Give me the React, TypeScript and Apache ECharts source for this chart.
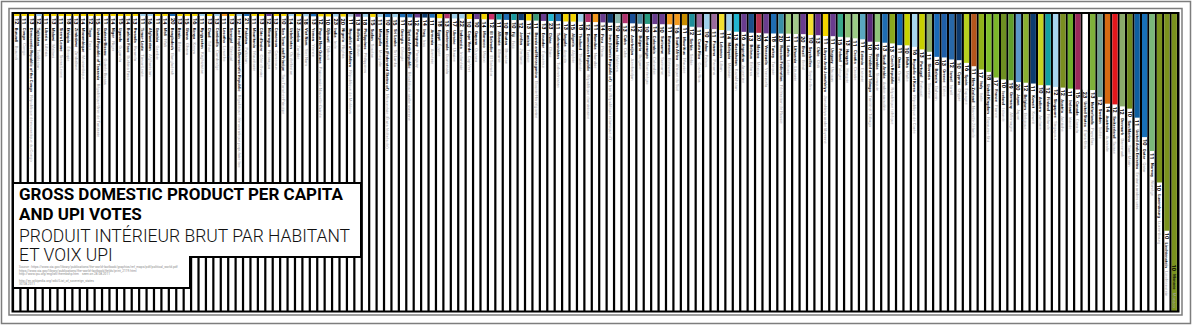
import React, { useEffect, useRef } from "react";
import * as echarts from "echarts";

// ---------- DATA ----------
const countries: string[] = [
  "Burundi", "Congo", "Democratic Republic of the Congo", "Tajikistan", "Liberia", "Malawi", "Sierra Leone", "Ethiopia", "Zimbabwe", "Mozambique",
  "Togo", "United Republic of Tanzania", "Guinea-Bissau", "Niger", "Uganda", "Burkina Faso", "Rwanda", "Timor-Leste", "Afghanistan", "Gambia",
  "Mali", "Bangladesh", "Benin", "Ghana", "Kenya", "Kyrgyzstan", "Chad", "Cambodia", "Lesotho", "Senegal",
  "Lao People's Democratic Republic", "Pakistan", "Mauritania", "Côte d'Ivoire", "Nicaragua", "Cameroon", "Sao Tome and Principe", "Uzbekistan", "Zambia", "Viet Nam",
  "Yemen", "Papua New Guinea", "Djibouti", "India", "Nigeria", "Republic of Moldova", "Bolivia", "Philippines", "Sudan", "Mongolia",
  "Micronesia (Federated States of)", "Sri Lanka", "Georgia", "Syrian Arab Republic", "Paraguay", "Iraq", "Armenia", "Egypt", "Guatemala", "Ukraine",
  "Indonesia", "Cape Verde", "Guyana", "Morocco", "El Salvador", "Albania", "Bhutan", "Fiji", "Jordan", "Tunisia",
  "Bosnia and Herzegovina", "Ecuador", "China", "Turkmenistan", "Angola", "Algeria", "Thailand", "Dominican Republic", "Namibia", "Peru",
  "Iran (Islamic Republic of)", "Maldives", "Cuba", "Azerbaijan", "Bulgaria", "Montenegro", "Colombia", "Suriname", "Botswana", "South Africa",
  "Mauritius", "Serbia", "Costa Rica", "Palau", "Panama", "Lebanon", "Malaysia", "Kazakhstan", "Argentina", "Belarus",
  "Mexico", "Venezuela", "Turkey", "Russian Federation", "Latvia", "Lithuania", "Brazil", "Seychelles", "Chile", "Libyan Arab Jamahiriya",
  "Uruguay", "Poland", "Hungary", "Croatia", "Estonia", "Trinidad and Tobago", "Slovakia", "Saudi Arabia", "Czech Republic", "Oman",
  "Malta", "Republic of Korea", "Portugal", "Slovenia", "Bahrain", "Greece", "Israel", "Cyprus", "Spain", "New Zealand",
  "Italy", "United Kingdom", "France", "Iceland", "Germany", "Japan", "Belgium", "Kuwait", "Andorra", "Finland",
  "Singapore", "Austria", "Ireland", "Canada", "United States", "Netherlands", "Sweden", "Australia", "Switzerland", "Denmark",
  "San Marino", "United Arab Emirates", "Qatar", "Norway", "Luxembourg", "Liechtenstein", "Monaco"
];

const countriesFr: string[] = [
  "Burundi", "Congo", "République démocratique du Congo", "Tadjikistan", "Libéria", "Malawi", "Sierra Leone", "Éthiopie", "Zimbabwe", "Mozambique",
  "Togo", "République-Unie de Tanzanie", "Guinée-Bissau", "Niger", "Ouganda", "Burkina Faso", "Rwanda", "Timor-Leste", "Afghanistan", "Gambie",
  "Mali", "Bangladesh", "Bénin", "Ghana", "Kenya", "Kirghizistan", "Tchad", "Cambodge", "Lesotho", "Sénégal",
  "République démocratique populaire lao", "Pakistan", "Mauritanie", "Côte d'Ivoire", "Nicaragua", "Cameroun", "Sao Tomé-et-Principe", "Ouzbékistan", "Zambie", "Viet Nam",
  "Yémen", "Papouasie-Nouvelle-Guinée", "Djibouti", "Inde", "Nigéria", "République de Moldova", "Bolivie", "Philippines", "Soudan", "Mongolie",
  "Micronésie (États fédérés de)", "Sri Lanka", "Géorgie", "République arabe syrienne", "Paraguay", "Iraq", "Arménie", "Égypte", "Guatemala", "Ukraine",
  "Indonésie", "Cap-Vert", "Guyana", "Maroc", "El Salvador", "Albanie", "Bhoutan", "Fidji", "Jordanie", "Tunisie",
  "Bosnie-Herzégovine", "Équateur", "Chine", "Turkménistan", "Angola", "Algérie", "Thaïlande", "République dominicaine", "Namibie", "Pérou",
  "Iran (République islamique d')", "Maldives", "Cuba", "Azerbaïdjan", "Bulgarie", "Monténégro", "Colombie", "Suriname", "Botswana", "Afrique du Sud",
  "Maurice", "Serbie", "Costa Rica", "Palaos", "Panama", "Liban", "Malaisie", "Kazakhstan", "Argentine", "Bélarus",
  "Mexique", "Venezuela", "Turquie", "Fédération de Russie", "Lettonie", "Lituanie", "Brésil", "Seychelles", "Chili", "Jamahiriya arabe libyenne",
  "Uruguay", "Pologne", "Hongrie", "Croatie", "Estonie", "Trinité-et-Tobago", "Slovaquie", "Arabie saoudite", "République tchèque", "Oman",
  "Malte", "République de Corée", "Portugal", "Slovénie", "Bahreïn", "Grèce", "Israël", "Chypre", "Espagne", "Nouvelle-Zélande",
  "Italie", "Royaume-Uni", "France", "Islande", "Allemagne", "Japon", "Belgique", "Koweït", "Andorre", "Finlande",
  "Singapour", "Autriche", "Irlande", "Canada", "États-Unis", "Pays-Bas", "Suède", "Australie", "Suisse", "Danemark",
  "Saint-Marin", "Émirats arabes unis", "Qatar", "Norvège", "Luxembourg", "Liechtenstein", "Monaco"
];

// UPI votes
const votes: number[] = [
  12, 11, 13, 12, 11, 13, 11, 18, 13, 14,
  12, 15, 11, 14, 15, 14, 13, 11, 16, 11,
  14, 20, 13, 15, 16, 11, 13, 13, 11, 13,
  12, 21, 11, 13, 12, 13, 10, 14, 13, 18,
  13, 12, 10, 23, 20, 11, 13, 18, 15, 11,
  10, 15, 11, 13, 12, 14, 11, 18, 13, 17,
  22, 10, 10, 14, 12, 11, 10, 10, 12, 13,
  11, 13, 23, 11, 13, 15, 18, 12, 11, 14,
  18, 10, 13, 12, 12, 10, 14, 10, 11, 16,
  11, 12, 11, 10, 11, 11, 14, 13, 16, 13,
  20, 14, 18, 20, 11, 11, 20, 10, 13, 11,
  11, 15, 13, 11, 11, 10, 12, 13, 13, 11,
  10, 16, 13, 11, 10, 13, 12, 10, 16, 11,
  17, 18, 17, 10, 19, 20, 12, 11, 10, 12,
  12, 12, 11, 15, 23, 13, 12, 14, 12, 12,
  10, 11, 10, 11, 10, 10, 10
];

// GDP per capita (USD)
const gdpPerCapita: number[] = [
  180, 210, 230, 270, 290, 330, 350, 365, 395, 420,
  445, 500, 530, 555, 565, 600, 610, 640, 650, 680,
  700, 720, 750, 790, 810, 850, 880, 910, 950, 1000,
  1040, 1070, 1100, 1140, 1170, 1210, 1240, 1290, 1330, 1380,
  1420, 1460, 1500, 1540, 1580, 1630, 1680, 1730, 1790, 1840,
  1880, 1930, 1990, 2080, 2130, 2190, 2240, 2580, 2640, 2700,
  2760, 3080, 3150, 3210, 3340, 3410, 3640, 3690, 3760, 3990,
  4060, 4240, 4290, 4360, 4590, 4650, 4720, 4890, 4960, 5120,
  5300, 5580, 5640, 5720, 5980, 6090, 6170, 6280, 6340, 6790,
  6900, 7790, 8190, 9200, 9260, 9810, 10270, 10880, 10950, 11480,
  11550, 11890, 11940, 11990, 12050, 12250, 12340, 12880, 12990, 13480,
  13590, 14010, 14330, 14900, 15520, 16980, 17060, 17620, 18030, 19080,
  19210, 20150, 21700, 23180, 26270, 26630, 27870, 28300, 29950, 32000,
  34020, 35480, 38940, 40140, 40560, 41720, 42100, 42620, 43580, 43700,
  44690, 45100, 45720, 46300, 46380, 46600, 50900, 54970, 55400, 56620,
  58000, 63530, 75450, 84000, 103300, 132800, 186000
];

const barColors: string[] = [
  "#f3d400", "#f3d400", "#f3d400", "#9fd0ea", "#f3d400", "#f3d400", "#f3d400", "#f3d400", "#f3d400", "#f3d400",
  "#f3d400", "#f3d400", "#f3d400", "#f3d400", "#f3d400", "#f3d400", "#f3d400", "#9fd0ea", "#9fd0ea", "#f3d400",
  "#f3d400", "#1f6db3", "#f3d400", "#f3d400", "#f3d400", "#9fd0ea", "#f3d400", "#9fd0ea", "#f39a1e", "#f3d400",
  "#9fd0ea", "#1f6db3", "#f3d400", "#f3d400", "#6a3d8f", "#f3d400", "#f3d400", "#9fd0ea", "#f3d400", "#9fd0ea",
  "#1f6db3", "#f3d400", "#f3d400", "#9fd0ea", "#f3d400", "#a9c4d6", "#6a3d8f", "#9fd0ea", "#f3d400", "#9fd0ea",
  "#1f6db3", "#9fd0ea", "#1f6db3", "#1f6db3", "#6a3d8f", "#0c3c6e", "#1f6db3", "#f3d400", "#b2336e", "#9fd0ea",
  "#9fd0ea", "#f3d400", "#6a3d8f", "#f3d400", "#c9306a", "#1a9aa0", "#1f6db3", "#1a9aa0", "#0c3c6e", "#f3d400",
  "#3d9b78", "#6a3d8f", "#22b5d0", "#1f6db3", "#f3d400", "#f3d400", "#9fd0ea", "#b2336e", "#f39a1e", "#6a3d8f",
  "#0c3c6e", "#8ab8b0", "#b2336e", "#1a4f96", "#4a8aa0", "#2a9a80", "#6a3d8f", "#6a3d8f", "#f39a1e", "#f39a1e",
  "#c98e00", "#1f8f9a", "#9b6a9c", "#9fd0ea", "#9b6a9c", "#f3e030", "#9fd0ea", "#22b5d0", "#6a3d8f", "#1b4f8a",
  "#b3304f", "#6a3d8f", "#1f6db3", "#3a8fa8", "#9cc97a", "#a2c98a", "#6a3d8f", "#f3e030", "#6a2f8a", "#f3d400",
  "#6a3d8f", "#3aa88a", "#8fc47a", "#9ccb86", "#5aa8c0", "#5a2a7a", "#8fc47a", "#1f6db3", "#8aa81e", "#1565b0",
  "#c8d200", "#a9d8f0", "#c8d000", "#8cab6a", "#1a6ab8", "#1f5fa8", "#2868a8", "#0d3a6e", "#b8d020", "#b5561c",
  "#8fb21a", "#7fbf2a", "#7ab52a", "#6f8f22", "#5f9f2a", "#5b97c8", "#8ab030", "#0c3c6e", "#c4d422", "#12a0a0",
  "#a8d4ee", "#7a8f20", "#6fb02a", "#9a2a5a", "#ffffff", "#7fb03a", "#6f9f90", "#d56a12", "#e3161b", "#8aab6a",
  "#6f8a1e", "#0f5fa0", "#1870b8", "#7ab87a", "#7a921e", "#7a921e", "#7a921e"
];

const titleLinesEn: string[] = ["GROSS DOMESTIC PRODUCT PER CAPITA", "AND UPI VOTES"];
const titleLinesFr: string[] = ["PRODUIT INTÉRIEUR BRUT PAR HABITANT", "ET VOIX UPI"];
const sourceLines: string[] = [
  "Source : https://www.cia.gov/library/publications/the-world-factbook/graphics/ref_maps/pdf/political_world.pdf",
  "https://www.cia.gov/library/publications/the-world-factbook/fields/print_2119.html",
  "http://www.ipu.org/english/membshp.htm    seen on 28.08.2011",
  "http://en.wikipedia.org/wiki/List_of_sovereign_states",
  "30.08.2011"
];

const Y_MAX = 182000;

export default function App() {
  const ref = useRef<HTMLDivElement>(null);

  useEffect(() => {
    if (!ref.current) return;
    const chart = echarts.init(ref.current, undefined, { renderer: "svg" });

    const lastIdx = countries.length - 1;
    const data = gdpPerCapita.map((v, i) => {
      const item: any = { value: v, itemStyle: { color: barColors[i] } };
      if (i === lastIdx) {
        item.label = { position: "insideBottom", align: "right", distance: 3 };
      }
      return item;
    });

    const sourceY = [267, 270.4, 273.8, 280.5, 283.9];

    const option: any = {
      animation: false,
      backgroundColor: "#ffffff",
      grid: {
        left: 13,
        right: 14,
        top: 14,
        bottom: 14,
        show: true,
        backgroundColor: "#000000",
        borderWidth: 0,
      },
      xAxis: {
        type: "category",
        data: countries,
        show: false,
      },
      yAxis: {
        type: "value",
        inverse: true,
        min: 0,
        max: Y_MAX,
        show: false,
        splitLine: { show: false },
      },
      series: [
        {
          type: "bar",
          data,
          barWidth: 5.2,
          showBackground: true,
          backgroundStyle: { color: "#ffffff" },
          barMinHeight: 2,
          clip: true,
          label: {
            show: true,
            position: "bottom",
            distance: 2,
            rotate: -90,
            align: "left",
            verticalAlign: "middle",
            formatter: (p: any) =>
              `{v|${votes[p.dataIndex]}} {n|${countries[p.dataIndex]}} {f|${countriesFr[p.dataIndex]}}`,
            rich: {
              v: { fontSize: 5.6, fontWeight: "bold", color: "#000", fontFamily: "Roboto" },
              n: { fontSize: 4.2, fontWeight: "bold", color: "#111", fontFamily: "Roboto" },
              f: { fontSize: 4.2, color: "#a0a0a0", fontFamily: "Roboto" },
            },
          },
        },
      ],
      graphic: [
        {
          type: "rect",
          silent: true,
          z: 50,
          shape: { x: 1.5, y: 1.5, width: 1189, height: 322 },
          style: { fill: "none", stroke: "#7d7d7d", lineWidth: 1.5 },
        },
        {
          type: "rect",
          silent: true,
          z: 50,
          shape: { x: 9, y: 8.5, width: 1173, height: 306.5 },
          style: { fill: "none", stroke: "#7d7d7d", lineWidth: 1.5 },
        },
        {
          type: "rect",
          silent: true,
          z: 50,
          shape: { x: 12.5, y: 13, width: 1166, height: 298.5 },
          style: { fill: "none", stroke: "#000", lineWidth: 2 },
        },
        {
          type: "polygon",
          silent: true,
          z: 60,
          shape: {
            points: [
              [13, 183],
              [361, 183],
              [361, 257],
              [190, 257],
              [190, 288],
              [13, 288],
            ],
          },
          style: { fill: "#ffffff", stroke: "#000", lineWidth: 2 },
        },
        ...titleLinesEn.map((t, i) => ({
          type: "text",
          silent: true,
          z: 70,
          x: 19,
          y: i === 0 ? 194 : 214,
          style: {
            text: t,
            font: "bold 17px 'Roboto', sans-serif",
            fill: "#000",
            verticalAlign: "middle",
            align: "left",
          },
        })),
        ...titleLinesFr.map((t, i) => ({
          type: "text",
          silent: true,
          z: 70,
          x: 19,
          y: i === 0 ? 235.5 : 254.5,
          style: {
            text: t,
            font: "300 17.5px 'Roboto', sans-serif",
            fill: "#111",
            verticalAlign: "middle",
            align: "left",
          },
        })),
        ...sourceLines.map((t, i) => ({
          type: "text",
          silent: true,
          z: 70,
          x: 19,
          y: sourceY[i],
          style: {
            text: t,
            font: "3.2px 'Roboto', sans-serif",
            fill: "#8a8a8a",
            verticalAlign: "middle",
            align: "left",
          },
        })),
      ],
    };

    chart.setOption(option);
    return () => chart.dispose();
  }, []);

  return (
    <div
      ref={ref}
      style={{ position: "absolute", left: 0, top: 0, width: 1192, height: 325 }}
    />
  );
}
